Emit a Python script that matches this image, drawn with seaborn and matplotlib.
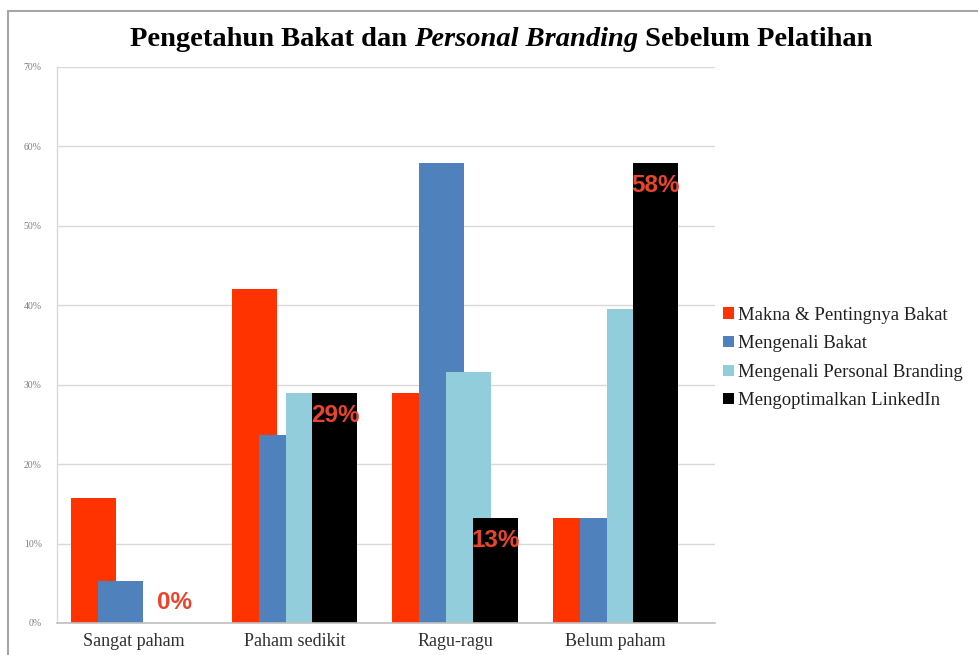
import numpy as np
import pandas as pd
import seaborn as sns
import matplotlib
matplotlib.use("Agg")
import matplotlib.pyplot as plt
from matplotlib.patches import Patch, Rectangle

# ---- data ----
categories = ["Sangat paham", "Paham sedikit", "Ragu-ragu", "Belum paham"]
series = ["Makna & Pentingnya Bakat", "Mengenali Bakat",
          "Mengenali Personal Branding", "Mengoptimalkan LinkedIn"]
makna = [15.8, 42.1, 28.9, 13.2]
mengenali_bakat = [5.3, 23.7, 57.9, 13.2]
personal_branding = [0.0, 28.9, 31.6, 39.5]
linkedin = [0.0, 28.9, 13.2, 57.9]
colors = ["#FF3300", "#4F81BD", "#92CDDC", "#000000"]
yticks = [0, 10, 20, 30, 40, 50, 60, 70]

sns.set_theme(style="white")
plt.rcParams["font.family"] = ["Liberation Serif", "DejaVu Serif"]

W, H = 979, 655
fig = plt.figure(figsize=(W / 100, H / 100), dpi=100)
ax = fig.add_axes([57 / W, 1 - 623 / H, (715 - 57) / W, (623 - 67) / H])

values = [makna, mengenali_bakat, personal_branding, linkedin]
rows = []
for s, vals in zip(series, values):
    for c, v in zip(categories, vals):
        rows.append({"Kategori": c, "Nilai": v, "Seri": s})
df = pd.DataFrame(rows)

n = len(series)
step = 0.168
barw = 0.28
sns.barplot(data=df, x="Kategori", y="Nilai", hue="Seri", hue_order=series,
            order=categories, palette=colors, width=step * n, dodge=True,
            saturation=1, linewidth=0, legend=False, ax=ax, errorbar=None)

span = step * (n - 1) + barw
label_info = []
for p in ax.patches:
    cx = p.get_x() + p.get_width() / 2
    ci = int(round(cx))
    hi = int(round((cx - ci) / step + (n - 1) / 2))
    newx = ci - span / 2 + hi * step
    p.set_x(newx)
    p.set_width(barw)
    p.set_zorder(2 + hi * 0.01)
    if hi == n - 1:
        label_info.append((newx + barw / 2, p.get_height()))

for cx, v in label_info:
    off = -16 if v > 0 else 15
    ax.annotate(f"{round(v):d}%", xy=(cx, v), xytext=(0, off),
                textcoords="offset points", ha="center", va="center",
                fontsize=17.5, fontweight="bold", color="#E8452C",
                family=["Liberation Sans", "DejaVu Sans"], zorder=5)

ax.set_xlim(-0.48, 3.62)
ax.set_ylim(0, 70)
ax.set_yticks(yticks)
ax.set_yticklabels([f"{t}%" for t in yticks], fontsize=7, color="#7F7F7F")
ax.tick_params(axis="y", length=0, pad=11)
ax.tick_params(axis="x", length=0, pad=7, labelsize=13, labelcolor="#303030")
ax.set_xlabel("")
ax.set_ylabel("")
ax.yaxis.grid(True, color="#D9D9D9", linewidth=1)
ax.set_axisbelow(True)
for s in ["top", "right"]:
    ax.spines[s].set_visible(False)
ax.spines["left"].set_color("#D9D9D9")
ax.spines["bottom"].set_color("#BFBFBF")
ax.spines["left"].set_linewidth(1)
ax.spines["bottom"].set_linewidth(1.2)

handles = [Patch(facecolor=c, edgecolor="none") for c in colors]
fig.legend(handles, series, loc="center left",
           bbox_to_anchor=(714 / W, 1 - 358 / H), frameon=False,
           fontsize=13.5, handlelength=0.55, handleheight=0.55,
           handletextpad=0.25, labelspacing=0.62, borderpad=0,
           labelcolor="#202020")

# title in three pieces (italic middle)
fig.canvas.draw()
r = fig.canvas.get_renderer()
parts = [("Pengetahun Bakat dan ", "normal"), ("Personal Branding", "italic"),
         (" Sebelum Pelatihan", "normal")]
texts = [fig.text(0, 1 - 40 / H, s, fontstyle=st, fontweight="bold",
                  fontsize=20.5, va="center", ha="left", color="#000000")
         for s, st in parts]
widths = [t.get_window_extent(r).width for t in texts]
x = 501 - sum(widths) / 2
for t, w in zip(texts, widths):
    t.set_x(x / W)
    x += w

# frame
fig.patches.append(Rectangle((8.5 / W, -0.1), 1.2, 1 - 11 / H + 0.1,
                             transform=fig.transFigure, fill=False,
                             edgecolor="#A6A6A6", linewidth=1.5))

fig.savefig("out.png", dpi=100)
